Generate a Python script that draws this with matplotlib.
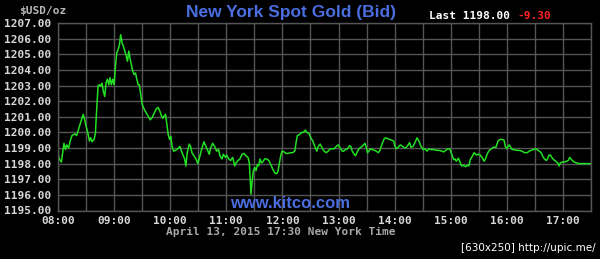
import matplotlib
matplotlib.use("Agg")
import matplotlib.pyplot as plt

# minutes after 08:00 and bid price (USD/oz)
minutes = [0, 1.4, 3.6, 5, 6.4, 8, 9.3, 11.4, 13, 15, 18, 20, 22, 24, 27, 28.6, 30, 32, 33.6, 35,
           36.4, 38.6, 40, 41.4, 42.9, 44.3, 45.7, 47, 48.6, 50, 51.4, 52.9, 54.3, 55.7, 57, 58.6,
           60, 61.4, 62.9, 64.3, 65.7, 67, 68.6, 70, 71.4, 72.9, 74.3, 75.7, 77, 78.6, 80, 81.4,
           82.9, 84.3, 85.7, 87, 88.6, 90, 92, 94.3, 96.4, 98.6, 100.7, 103, 105, 107, 109, 110.7,
           112, 113.6, 115, 116.4, 117.9, 119.3, 120.7, 122, 123.6, 125.7, 128,
           130.4, 132, 134, 135.4, 136.8, 138.2, 140.4, 141.8, 143.2, 145.4, 147.5, 149.6, 151.8,
           154, 156, 158.2, 160.4, 161.8, 163.2, 165.4, 167.5, 169.6, 171.8, 173.2, 175.4, 176.8,
           178.9, 180.4, 182.5, 184.6, 186.8, 189, 190.4, 192.5, 194.6, 196.8, 198.9, 201, 203.2,
           204.6, 205.4, 206.4, 207.5, 208.9, 210.4, 211.8, 213.2, 214.6, 216, 217.5, 218.9, 221,
           223.2, 225.4, 227.5, 229.6, 231.8, 233.9, 235.4, 236.8, 238.2, 239.6, 241.8, 243.9, 246,
           248.2, 251, 253.2, 254.6, 256, 258.2, 260.4, 262.5, 264.6, 266, 268.2, 270.4, 272.5,
           274.6, 276.8, 278.2, 280.4, 282.5, 284.6, 286.8, 289, 291, 293.2, 295.4, 297.5, 299.6,
           301.8, 304, 305.4, 307.5, 309.6, 311.8, 313.2, 314.6, 316.8, 318.2, 319.6, 321.8, 323.9,
           326, 328.2, 329.6, 331, 332.5, 333.9, 336, 338.2, 340.4, 342.5, 343.9, 345.4, 346.8,
           348.9, 350.4, 352.5, 354.6, 356.8, 358.9, 360.4, 361.8, 363.9, 366, 367.5, 369.6, 371.8,
           373.9, 376, 377.5, 379.6, 381.8, 383.9, 386, 388.2, 390.4, 392.5, 394.6, 396.8, 398.9,
           401.8, 404.6, 407.5, 410.4, 412.5, 414.6, 416.8, 418.9, 420.4, 421.8, 423.2, 424.6, 426,
           428.2, 431.6, 433.7, 435.8, 438, 439.4, 440.8, 442.9, 445, 447.2, 449.3, 451.4, 453.5,
           455.7, 457.1, 459.2, 461.3, 463.5, 465.6, 468.4, 470.6, 472.7, 474.8, 477, 478.4, 479.8,
           481.2, 482.6, 484, 485.5, 487.6, 490.4, 493.3, 496.1, 499, 501.8, 503.9, 506, 508.2,
           510.3, 512.4, 514.5, 516.7, 518.1, 520.2, 522.3, 523.8, 525.2, 526.6, 528, 530.1, 532.3,
           534.4, 535.8, 537.2, 539.4, 541.5, 543.6, 545.7, 547.2, 548.6, 550, 552.1, 554.3, 557.1,
           560.6, 564.2, 568.4, 570]
price = [1198.6, 1198.3, 1198.1, 1198.7, 1199.3, 1198.9, 1199.2, 1199.0, 1199.45, 1199.8, 1199.9,
         1199.8, 1200.2, 1200.6, 1201.15, 1200.8, 1200.4, 1199.95, 1199.45, 1199.65, 1199.4,
         1199.55, 1199.95, 1201.5, 1203.0, 1203.05, 1202.95, 1203.15, 1202.6, 1202.3, 1203.2,
         1203.4, 1203.05, 1203.5, 1203.05, 1203.4, 1203.05, 1204.2, 1205.1, 1205.3, 1205.6,
         1206.25, 1205.7, 1205.5, 1205.2, 1204.9, 1204.55, 1205.2, 1204.75, 1204.3, 1203.9,
         1203.7, 1203.8, 1203.4, 1203.05, 1203.05, 1202.4, 1201.8, 1201.5, 1201.25, 1201.05,
         1200.8, 1200.95, 1201.25, 1201.5, 1201.6, 1201.35, 1201.05, 1200.9, 1201.05, 1201.15,
         1200.5, 1199.85, 1199.55, 1199.75, 1199.1, 1198.8, 1198.85, 1198.95,
         1199.1, 1198.8, 1198.5, 1198.3, 1197.85, 1198.7, 1199.25, 1199.1, 1198.7, 1198.5, 1198.3,
         1198.0, 1198.5, 1199.0, 1199.4, 1199.1, 1198.8, 1198.6, 1199.0, 1199.3, 1199.1, 1198.8,
         1198.9, 1198.5, 1198.3, 1198.6, 1198.4, 1198.55, 1198.3, 1198.2, 1198.4, 1197.85, 1198.05,
         1198.2, 1198.3, 1198.6, 1198.65, 1198.5, 1198.4, 1198.05, 1197.2, 1196.05, 1196.8,
         1197.55, 1197.75, 1197.55, 1197.95, 1197.85, 1198.3, 1198.05, 1198.1, 1198.3, 1198.3,
         1198.2, 1197.95, 1197.65, 1197.4, 1197.35, 1197.55, 1198.05, 1198.5, 1198.8, 1198.75,
         1198.65, 1198.65, 1198.7, 1198.7, 1198.8, 1199.35, 1199.8, 1199.85, 1200.0, 1200.0,
         1200.15, 1200.0, 1199.95, 1199.65, 1199.45, 1199.1, 1198.8, 1199.1, 1199.25, 1199.0,
         1198.8, 1198.7, 1198.8, 1198.95, 1198.95, 1198.95, 1199.1, 1199.2,
         1199.0, 1198.8, 1198.8, 1198.9, 1198.95, 1199.15, 1199.1, 1198.8, 1198.6, 1198.5, 1198.7,
         1198.95, 1199.05, 1199.15, 1199.3, 1199.05, 1198.7, 1198.8, 1198.95, 1198.9, 1198.85,
         1198.8, 1198.7, 1198.8, 1199.05, 1199.3, 1199.6, 1199.65, 1199.6, 1199.55, 1199.5,
         1199.45, 1199.1, 1198.95, 1199.05, 1199.2, 1199.15, 1199.05, 1199.0, 1199.15, 1199.35,
         1199.05, 1199.1, 1199.35, 1199.65, 1199.45, 1199.1, 1198.9, 1198.95, 1198.8, 1198.95,
         1198.9, 1198.9, 1198.85, 1198.85, 1198.8, 1198.75, 1198.85, 1198.95, 1198.95, 1198.7,
         1198.45, 1198.25, 1198.3, 1198.15, 1198.35, 1197.85, 1197.9, 1197.8, 1197.9, 1197.85,
         1198.25, 1198.45, 1198.7, 1198.55, 1198.6, 1198.55, 1198.4, 1198.15, 1198.3, 1198.65,
         1198.85, 1198.95, 1199.05, 1199.05, 1199.45, 1199.55, 1199.55, 1199.5, 1199.1, 1198.95,
         1199.1, 1199.2, 1199.05, 1198.9, 1198.9, 1198.85, 1198.85, 1198.8, 1198.7, 1198.7,
         1198.8, 1198.85, 1198.9, 1198.95, 1198.9, 1198.8, 1198.7, 1198.5, 1198.3, 1198.2,
         1198.35, 1198.55, 1198.55, 1198.4, 1198.25, 1198.15, 1198.05, 1197.85, 1198.05, 1198.1,
         1198.1, 1198.15, 1198.2, 1198.4, 1198.3, 1198.2, 1198.1, 1198.05, 1198.0, 1198.0, 1198.0,
         1198.0, 1198.0]

hour_labels = ["08:00", "09:00", "10:00", "11:00", "12:00", "13:00", "14:00",
               "15:00", "16:00", "17:00"]
price_ticks = [1195, 1196, 1197, 1198, 1199, 1200, 1201, 1202, 1203, 1204, 1205, 1206, 1207]

MONO = "DejaVu Sans Mono"
BLUE = "#4a6ee0"
GRID = "#555555"
W, H = 600, 259

fig = plt.figure(figsize=(W / 100, H / 100), dpi=100, facecolor="black")
ax = fig.add_axes([58 / W, 1 - 210.5 / H, (591 - 58) / W, (210.5 - 23) / H])
ax.set_facecolor("black")

ax.plot(minutes, price, color="#22e022", lw=1.1)

ax.set_xlim(0, 570)
ax.set_ylim(1195, 1207)
ax.set_xticks([i * 60 for i in range(len(hour_labels))])
ax.set_xticklabels(hour_labels)
ax.set_xticks([30 + i * 60 for i in range(len(hour_labels))], minor=True)
ax.set_yticks(price_ticks)
ax.set_yticklabels([f"{p:.2f}" for p in price_ticks])
ax.grid(True, which="both", color=GRID, lw=1)
ax.tick_params(which="both", length=0, colors="#d8d8d8", labelsize=8)
ax.tick_params(axis="y", pad=5)
ax.tick_params(axis="x", pad=4)
for lab in ax.get_xticklabels() + ax.get_yticklabels():
    lab.set_fontfamily(MONO)
    lab.set_fontweight("bold")
for sp in ax.spines.values():
    sp.set_color(GRID)
    sp.set_linewidth(1)

fig.text(19 / W, 1 - 11 / H, "$USD/oz", color="#b8b8b8", family=MONO,
         fontsize=8, fontweight="bold", ha="left", va="center")
fig.text(291 / W, 1 - 12 / H, "New York Spot Gold (Bid)", color=BLUE,
         family="Liberation Sans", fontsize=12.5, fontweight="bold", ha="center", va="center")
fig.text(429 / W, 1 - 16 / H, "Last 1198.00", color="white", family=MONO,
         fontsize=8, fontweight="bold", ha="left", va="center")
fig.text(517 / W, 1 - 16 / H, "-9.30", color="#ff2020", family=MONO,
         fontsize=8, fontweight="bold", ha="left", va="center")
fig.text(290 / W, 1 - 204 / H, "www.kitco.com", color=BLUE,
         family="Liberation Sans", fontsize=12, fontweight="bold", ha="center", va="center")
fig.text(281 / W, 1 - 232 / H, "April 13, 2015 17:30 New York Time", color="#a8a8a8",
         family=MONO, fontsize=8, fontweight="bold", ha="center", va="center")
fig.text(596 / W, 1 - 248 / H, "[630x250] http://upic.me/", color="white",
         family="DejaVu Sans", fontsize=7.5, ha="right", va="center")

fig.savefig("out.png", dpi=100, facecolor="black")
